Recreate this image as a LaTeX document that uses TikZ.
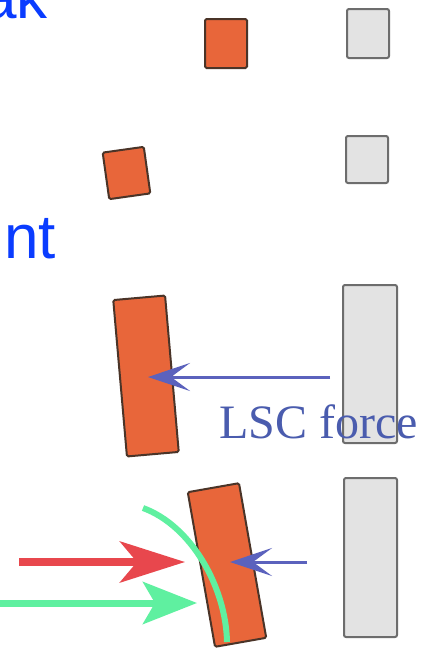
\documentclass[tikz,border=0pt]{standalone}
\usepackage{fontspec}
\setmainfont{Liberation Serif}
\newfontfamily\arialfont{Liberation Sans}
\usetikzlibrary{arrows.meta}
\definecolor{orangefill}{HTML}{E8663A}
\definecolor{orangeline}{HTML}{4A3428}
\definecolor{grayfill}{HTML}{E3E3E3}
\definecolor{grayline}{HTML}{6D6D6D}
\definecolor{titleblue}{HTML}{0A3CFF}
\definecolor{lscblue}{HTML}{4A5CAE}
\definecolor{arrowblue}{HTML}{5B62BD}
\definecolor{redarrow}{HTML}{E8474D}
\definecolor{greenarrow}{HTML}{5FF0A0}
\tikzset{
  bunch/.style={draw=orangeline, fill=orangefill, line width=2pt, rounded corners=1.5pt, inner sep=0pt, outer sep=0pt},
  witness/.style={draw=grayline, fill=grayfill, line width=2pt, rounded corners=2pt, inner sep=0pt, outer sep=0pt},
  titletext/.style={text=titleblue, font=\arialfont\fontsize{62}{62}\selectfont, inner sep=0pt, anchor=base east},
  lscarrow/.style={draw=arrowblue, line width=3pt, -{Stealth[length=42pt,width=28pt,inset=19pt]}},
}
\begin{document}
\begin{tikzpicture}[x=1pt,y=-1pt]
\clip (0,0) rectangle (427,648);
\fill[white] (0,0) rectangle (427,648);
% title fragments
\node[titletext] (ak) at (48,18) {ak};
\node[titletext] (nt) at (56,258) {nt};
% bunches and witness bunches
\node[bunch, minimum width=42pt, minimum height=49pt] (b1) at (226,43.5) {};
\node[witness, minimum width=42pt, minimum height=49pt] (w1) at (368,33.5) {};
\node[bunch, minimum width=41.5pt, minimum height=47pt, rotate=8] (b2) at (126.5,173) {};
\node[witness, minimum width=42pt, minimum height=47pt] (w2) at (367,159.5) {};
\node[bunch, minimum width=52pt, minimum height=157pt, rotate=5] (b3) at (146,376) {};
\node[witness, minimum width=54pt, minimum height=158pt] (w3) at (370,364) {};
\node[bunch, minimum width=52pt, minimum height=157pt, rotate=10] (b4) at (227,565) {};
\node[witness, minimum width=53pt, minimum height=159pt] (w4) at (370.5,557.5) {};
% LSC force
\coordinate (lscstart) at (330,377);
\coordinate (lsctip) at (148,377);
\draw[lscarrow] (lscstart) -- (lsctip);
\node[text=lscblue, font=\fontsize{48}{48}\selectfont, inner sep=0pt, anchor=base west] (lsc) at (219,438) {LSC force};
% bottom: curved green path
\coordinate (gcs) at (143,508);
\coordinate (gce) at (227,642);
\draw[greenarrow, line width=6pt] (gcs) .. controls (192,526) and (226,588) .. (gce);
% red and green arrows
\coordinate (rs) at (19,562);
\coordinate (rt) at (185,562);
\draw[redarrow, line width=8pt, -{Stealth[length=65pt,width=41pt,inset=17pt]}] (rs) -- (rt);
\coordinate (gs) at (-2,603);
\coordinate (gt) at (197,603);
\draw[greenarrow, line width=7pt, -{Stealth[length=54pt,width=42pt,inset=12pt]}] (gs) -- (gt);
% small blue arrow
\coordinate (bs) at (307,562);
\coordinate (bt) at (230,562);
\draw[lscarrow] (bs) -- (bt);
\end{tikzpicture}
\end{document}
